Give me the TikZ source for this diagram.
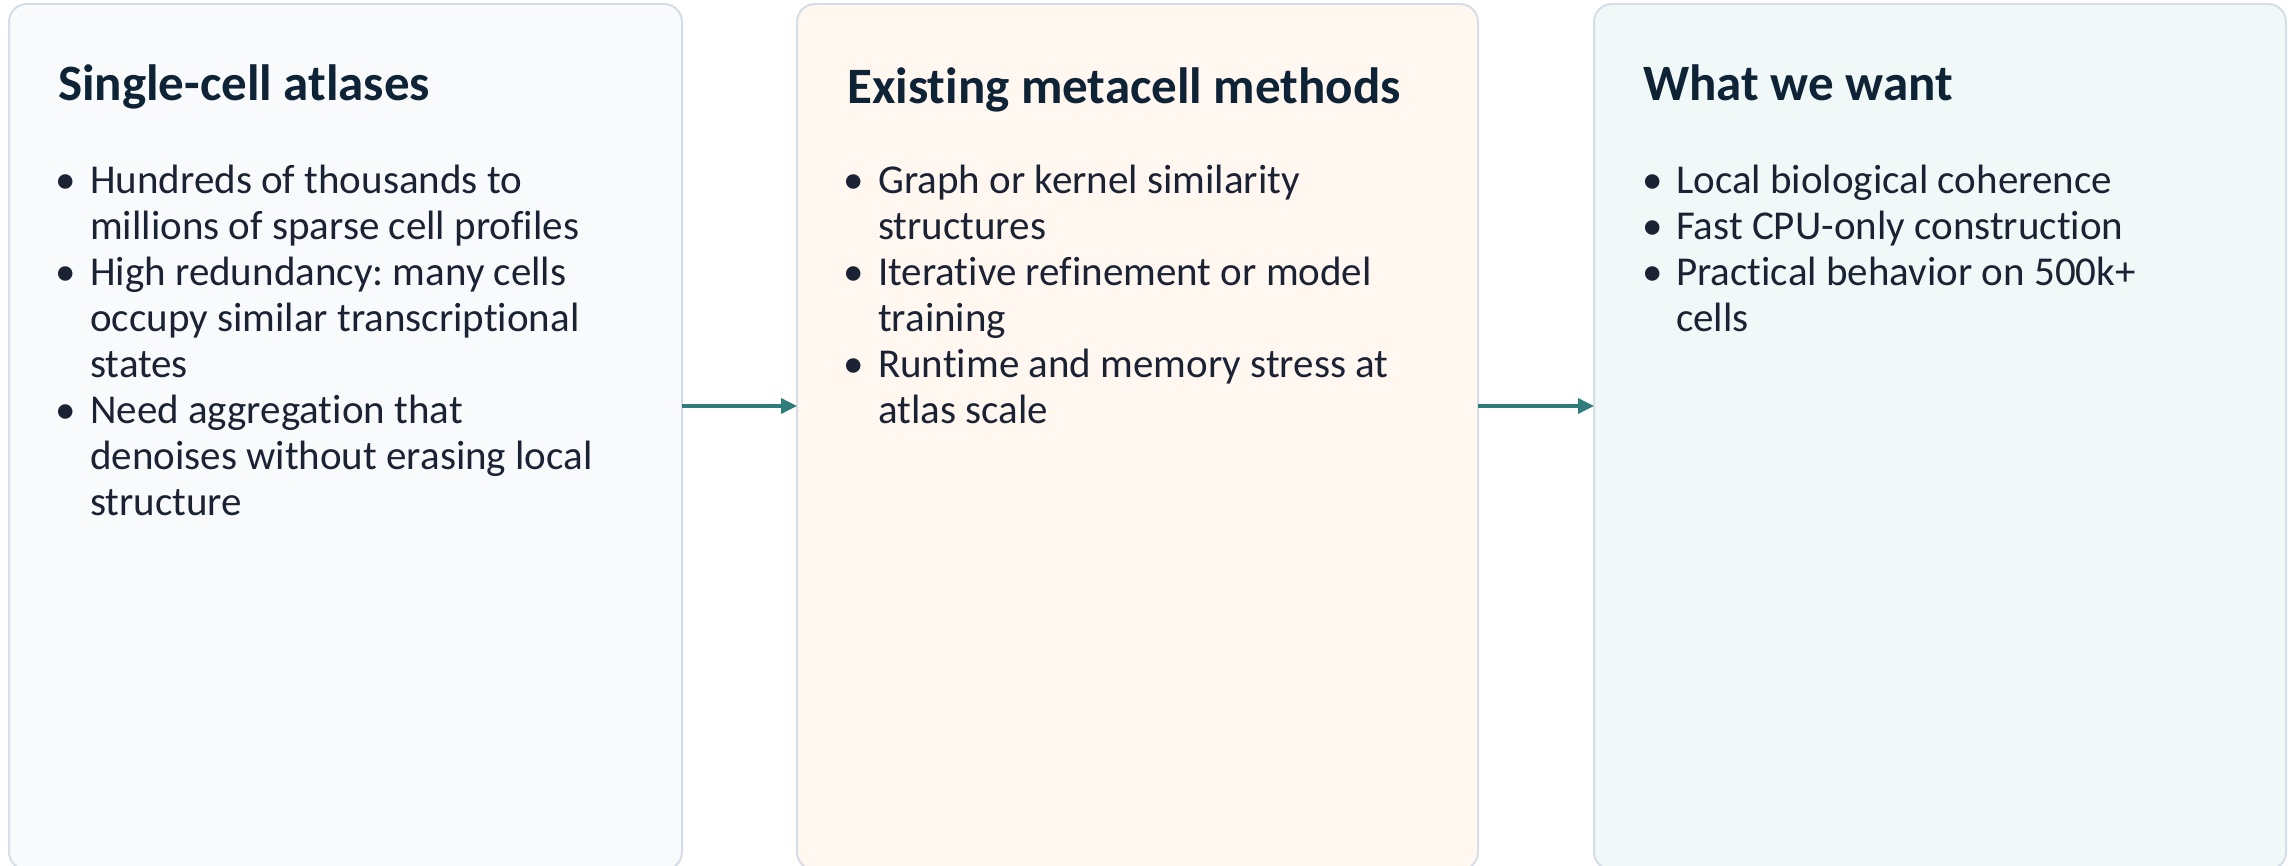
\documentclass[tikz,border=0pt]{standalone}
\usepackage{fontspec}
\setmainfont{Carlito}[Ligatures=CommonOff]
\frenchspacing
\usetikzlibrary{arrows.meta}
\definecolor{bordc}{HTML}{D6DDE6}
\definecolor{fillA}{HTML}{F8FAFC}
\definecolor{fillB}{HTML}{FFF7F0}
\definecolor{fillC}{HTML}{F0F9F7}
\definecolor{titc}{HTML}{0F2336}
\definecolor{bodc}{HTML}{1B2233}
\definecolor{arrc}{HTML}{2E7D7A}
\newcommand{\bul}{\llap{\makebox[48pt][c]{•}}}
\tikzset{
  panel/.style={draw=bordc, line width=2pt, rounded corners=18pt, inner sep=0pt, outer sep=0pt, anchor=north west, minimum height=866pt},
  ptitle/.style={anchor=base west, inner sep=0pt, text=titc, font=\fontsize{51}{60}\selectfont\bfseries},
  pbody/.style={anchor=base west, inner sep=0pt, text=bodc, font=\fontsize{41}{46}\selectfont\frenchspacing},
  flow/.style={draw=arrc, line width=3.5pt, -{Triangle[length=16pt,width=15pt]}}
}
\begin{document}
\begin{tikzpicture}[x=1pt,y=-1pt]
\useasboundingbox (0,0) rectangle (2295,866);
\clip (0,0) rectangle (2295,866);
\node[panel, fill=fillA, minimum width=673pt] (b1) at (9,4) {};
\node[panel, fill=fillB, minimum width=681pt] (b2) at (797,4) {};
\node[panel, fill=fillC, minimum width=692pt] (b3) at (1594,4) {};
\draw[flow] ([yshift=31pt]b1.east) -- ([yshift=31pt]b2.west);
\draw[flow] ([yshift=31pt]b2.east) -- ([yshift=31pt]b3.west);
\node[ptitle] (h1) at (58,101) {Single-cell atlases};
\node[ptitle] (h2) at (847,104) {Existing metacell methods};
\node[ptitle] (h3) at (1643,101) {What we want};
\node[pbody] (t1) at (90,194) {\begin{tabular}[t]{@{}l@{}}
\bul Hundreds of thousands to\\
millions of sparse cell profiles\\
\bul High redundancy: many cells\\
occupy similar transcriptional\\
states\\
\bul Need aggregation that\\
denoises without erasing local\\
structure
\end{tabular}};
\node[pbody] (t2) at (878,194) {\begin{tabular}[t]{@{}l@{}}
\bul Graph or kernel similarity\\
structures\\
\bul Iterative refinement or model\\
training\\
\bul Runtime and memory stress at\\
atlas scale
\end{tabular}};
\node[pbody] (t3) at (1676,194) {\begin{tabular}[t]{@{}l@{}}
\bul Local biological coherence\\
\bul Fast CPU-only construction\\
\bul Practical behavior on 500k+\\
cells
\end{tabular}};
\end{tikzpicture}
\end{document}
